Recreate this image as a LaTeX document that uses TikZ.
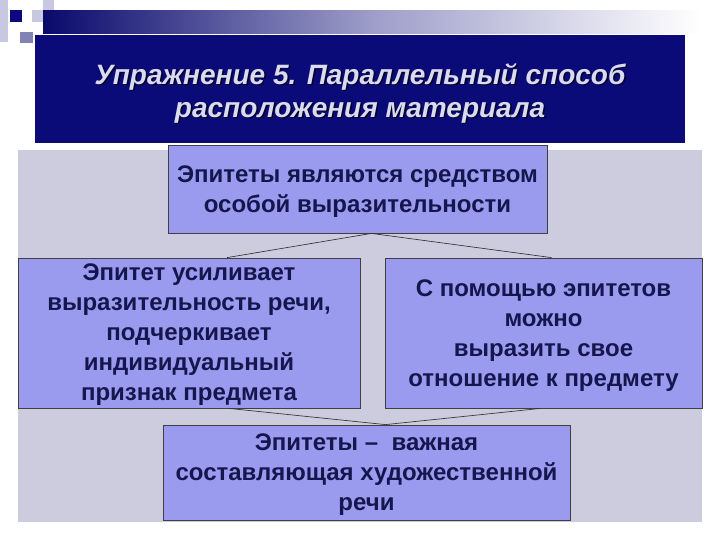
\documentclass[tikz,border=0pt]{standalone}
\usepackage{fontspec}
\setmainfont{Liberation Sans}
\usetikzlibrary{calc}
\definecolor{navy}{RGB}{10,10,120}
\definecolor{panel}{RGB}{204,204,222}
\definecolor{boxfill}{RGB}{154,154,238}
\definecolor{boxtext}{RGB}{22,22,78}
\definecolor{titletext}{RGB}{218,218,240}
\definecolor{sqlight}{RGB}{200,200,224}
\definecolor{sqmid}{RGB}{130,130,180}
\tikzset{
  box/.style={draw=black!75, line width=0.6pt, fill=boxfill, inner sep=0pt},
  boxlabel/.style={align=center, text=boxtext, font=\fontsize{18}{22.5}\selectfont\bfseries, inner sep=0pt},
  titlefont/.style={font=\fontsize{21}{24.75}\selectfont\bfseries\itshape, align=center},
  link/.style={draw=black!80, line width=0.5pt}
}
\begin{document}
\begin{tikzpicture}[x=0.75pt,y=-0.75pt]
\useasboundingbox (0,0) rectangle (720,540);
\fill[white] (0,0) rectangle (720,540);
% decorative squares
\fill[sqlight] (0,0) rectangle (8,42);
\fill[sqlight] (32,10) rectangle (54,22);
\fill[sqlight] (43,0) rectangle (54,10);
\fill[navy] (10,10) rectangle (22,22);
\fill[sqmid] (20,32) rectangle (33,43);
% gradient bar
\shade[left color=navy!90!black, right color=white, middle color=navy!40!white] (43,10) rectangle (700,33);
% title box
\fill[navy] (35,35) rectangle (685,143);
\node[titlefont, text=black!70!navy] at (361.5,94.5) {Упражнение 5. Параллельный способ\\расположения материала};
\node[titlefont, text=titletext] (title) at (360,93) {Упражнение 5. Параллельный способ\\расположения материала};
% panel
\fill[panel] (18,150) rectangle (702,522);
% boxes
\node[box, minimum width=379*0.75pt, minimum height=88*0.75pt] (top) at (357.5,189) {};
\node[boxlabel] (topt) at ($(top)+(0,3)$) {Эпитеты являются средством\\ особой выразительности};
\node[box, minimum width=342*0.75pt, minimum height=150*0.75pt] (left) at (189,333) {};
\node[boxlabel] (leftt) at ($(left)+(0,2)$) {Эпитет усиливает\\выразительность речи,\\подчеркивает\\индивидуальный\\признак предмета};
\node[box, minimum width=317*0.75pt, minimum height=150*0.75pt] (right) at (543.5,333) {};
\node[boxlabel] (rightt) at ($(right)+(0,3)$) {С помощью эпитетов\\можно\\выразить свое\\отношение к предмету};
\node[box, minimum width=407*0.75pt, minimum height=95*0.75pt] (bottom) at (366.5,472.5) {};
\node[boxlabel] (bottomt) at ($(bottom)+(0,2)$) {Эпитеты –\ \ важная\\составляющая художественной\\речи};
% connectors
\draw[link] ($(top.south)+(14,0)$) -- ($(left.north)+(38,0)$);
\draw[link] ($(top.south)+(14,0)$) -- ($(right.north)+(8,0)$);
\draw[link] ($(left.south)+(40,0)$) -- ($(bottom.north)+(19,0)$);
\draw[link] ($(right.south)+(-3,0)$) -- ($(bottom.north)+(19,0)$);
\end{tikzpicture}
\end{document}
